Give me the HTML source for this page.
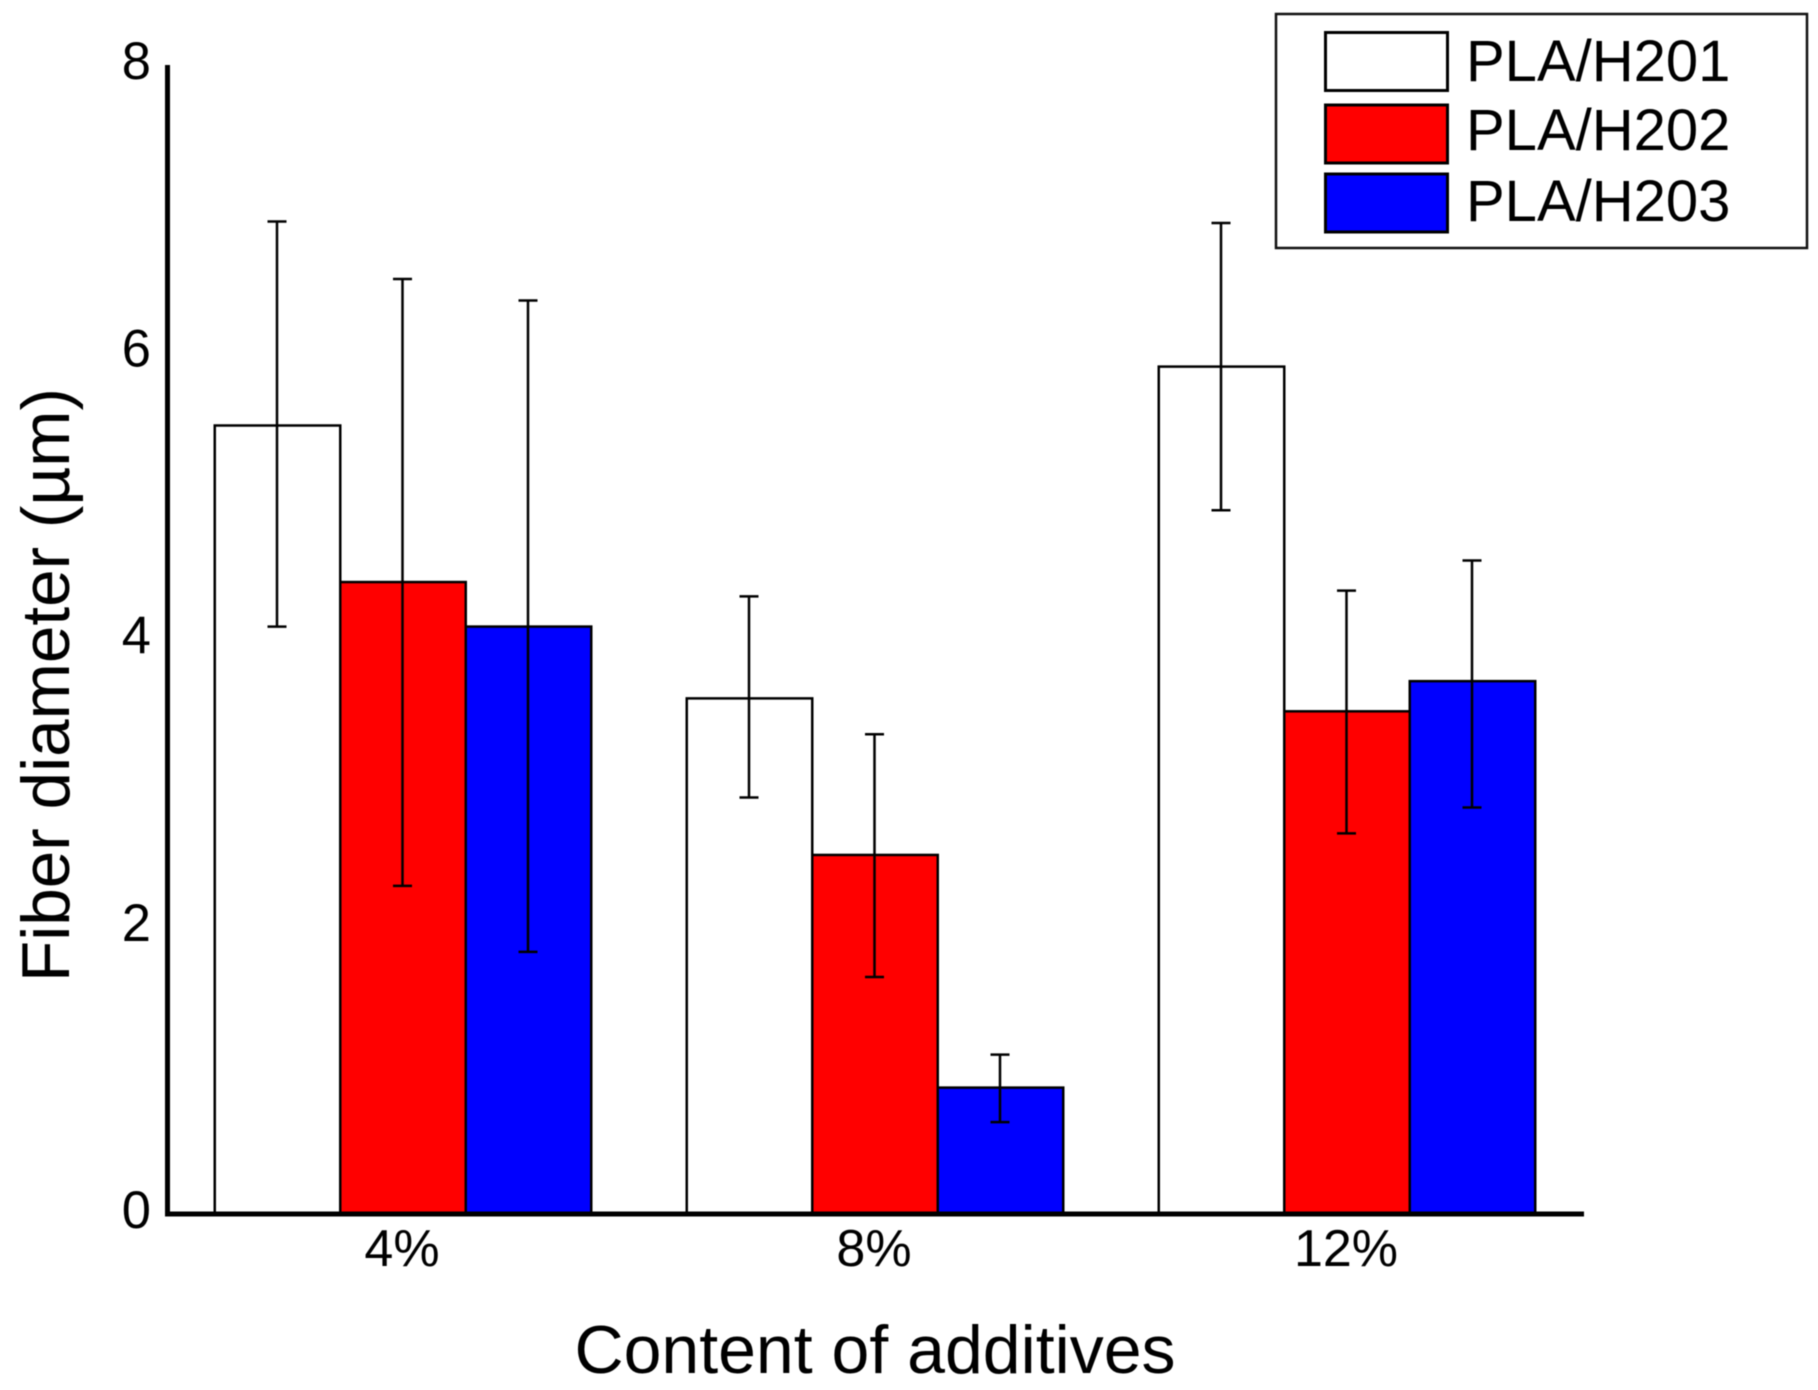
<!DOCTYPE html>
<html lang="en">
<head>
<meta charset="utf-8">
<title>Fiber diameter by content of additives</title>
<style>
html,body{margin:0;padding:0;background:#fff;}
svg{display:block;filter:blur(0.6px);}
text{font-family:"Liberation Sans",Arial,sans-serif;fill:#000;}
</style>
</head>
<body>
<svg id="chart" xmlns="http://www.w3.org/2000/svg" width="1818" height="1390" viewBox="0 0 1818 1390">
  <rect x="0" y="0" width="1818" height="1390" fill="#fff"/>
  <g id="bars"></g>
  <g id="errors"></g>
  <g id="axes"></g>
  <text transform="translate(69,685) rotate(-90)" text-anchor="middle" font-size="67.5">Fiber diameter (µm)</text>
  <text x="875" y="1373" text-anchor="middle" font-size="68">Content of additives</text>
  <g>
    <rect x="1276" y="14" width="531" height="234" fill="#fff" stroke="#111" stroke-width="2.5"/>
    <g>
      <rect x="1325.5" y="32.5" width="122" height="58" fill="#fff" stroke="#000" stroke-width="3"/>
      <text x="1466" y="81" font-size="58">PLA/H201</text>
    </g>
    <g>
      <rect x="1325.5" y="105" width="122" height="58" fill="#f00" stroke="#000" stroke-width="3"/>
      <text x="1466" y="150" font-size="58">PLA/H202</text>
    </g>
    <g>
      <rect x="1325.5" y="174" width="122" height="58" fill="#00f" stroke="#000" stroke-width="3"/>
      <text x="1466" y="221" font-size="58">PLA/H203</text>
    </g>
  </g>
</svg>
<script>
const categories = ['4%', '8%', '12%'];
const seriesNames = ['h201', 'h202', 'h203'];
const seriesColors = ['#ffffff', '#ff0000', '#0000ff'];
const h201Values = [5.49, 3.59, 5.90];
const h202Values = [4.40, 2.50, 3.50];
const h203Values = [4.09, 0.88, 3.71];
const h201Upper = [6.91, 4.30, 6.90];
const h202Upper = [6.51, 3.34, 4.34];
const h203Upper = [6.36, 1.11, 4.55];
const h201Lower = [4.09, 2.90, 4.90];
const h202Lower = [2.285, 1.65, 2.65];
const h203Lower = [1.825, 0.64, 2.83];
const yTicks = [0, 2, 4, 6, 8];

const seriesValues = [h201Values, h202Values, h203Values];
const seriesUpper = [h201Upper, h202Upper, h203Upper];
const seriesLower = [h201Lower, h202Lower, h203Lower];

const NS = 'http://www.w3.org/2000/svg';
const yZero = 1214;
const yTop = 65;
const yMax = 8;
const groupFirst = 403;
const groupStep = 472;
const barWidth = 125.5;
const capHalf = 9.5;

function yScale(v) { return yZero - (v / yMax) * (yZero - yTop); }
function groupX(i) { return groupFirst + groupStep * i; }
function barCenter(i, j) { return groupX(i) + (j - 1) * barWidth; }

function mk(tag, parent, attrs) {
  const el = document.createElementNS(NS, tag);
  Object.keys(attrs).forEach(function (k) { el.setAttribute(k, attrs[k]); });
  parent.appendChild(el);
  return el;
}

const barsG = document.getElementById('bars');
const errG = document.getElementById('errors');
const axesG = document.getElementById('axes');

categories.forEach(function (cat, i) {
  seriesNames.forEach(function (name, j) {
    const v = seriesValues[j][i];
    const cx = barCenter(i, j);
    const bar = mk('rect', barsG, {
      x: cx - barWidth / 2, y: yScale(v), width: barWidth, height: yZero - yScale(v),
      fill: seriesColors[j], stroke: '#000', 'stroke-width': 2.5
    });
    
    

    const ex = cx - 0.5;
    const stem = mk('line', errG, {
      x1: ex, x2: ex, y1: yScale(seriesUpper[j][i]), y2: yScale(seriesLower[j][i]),
      stroke: '#000', 'stroke-width': 2.5
    });
    
    

    const capTop = mk('line', errG, {
      x1: ex - capHalf, x2: ex + capHalf, y1: yScale(seriesUpper[j][i]), y2: yScale(seriesUpper[j][i]),
      stroke: '#000', 'stroke-width': 2.5
    });
    
    

    const capBottom = mk('line', errG, {
      x1: ex - capHalf, x2: ex + capHalf, y1: yScale(seriesLower[j][i]), y2: yScale(seriesLower[j][i]),
      stroke: '#000', 'stroke-width': 2.5
    });
    
    
  });

  const label = mk('text', axesG, {
    x: groupX(i) - 1, y: 1266, 'text-anchor': 'middle', 'font-size': 52
  });
  label.textContent = cat;
  
  
});

const yAxis = mk('line', axesG, {
  x1: 167.5, x2: 167.5, y1: yTop, y2: yZero + 2.5, stroke: '#000', 'stroke-width': 5
});



const xAxis = mk('line', axesG, {
  x1: 165, x2: 1584, y1: yZero, y2: yZero, stroke: '#000', 'stroke-width': 5
});



yTicks.forEach(function (t) {
  const tick = mk('text', axesG, {
    x: 151, y: yScale(t) + 14, 'text-anchor': 'end', 'font-size': 52.5
  });
  tick.textContent = String(t);
  
  
});
</script>
</body>
</html>
